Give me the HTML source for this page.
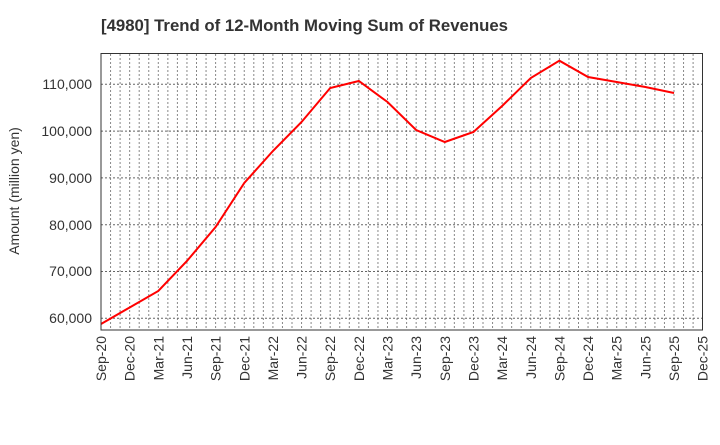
<!DOCTYPE html>
<html><head><style>
body{margin:0;background:#fff;}
svg text{font-family:"Liberation Sans",sans-serif;}
</style></head><body>
<svg width="720" height="440" xmlns="http://www.w3.org/2000/svg">
<rect width="720" height="440" fill="#fff"/>
<text x="101" y="31" font-size="16.5" font-weight="bold" fill="#333" textLength="407" lengthAdjust="spacingAndGlyphs">[4980]  Trend of 12-Month Moving Sum of Revenues</text>
<path stroke="#888" stroke-width="1" stroke-dasharray="2,2" fill="none" d="M110.55 54V330M120.1 54V330M129.65 54V330M139.2 54V330M148.75 54V330M158.3 54V330M167.85 54V330M177.4 54V330M186.95 54V330M196.5 54V330M206.05 54V330M215.6 54V330M225.15 54V330M234.7 54V330M244.25 54V330M253.8 54V330M263.35 54V330M272.9 54V330M282.45 54V330M292 54V330M301.55 54V330M311.1 54V330M320.65 54V330M330.2 54V330M339.75 54V330M349.3 54V330M358.85 54V330M368.4 54V330M377.95 54V330M387.5 54V330M397.05 54V330M406.6 54V330M416.15 54V330M425.7 54V330M435.25 54V330M444.8 54V330M454.35 54V330M463.9 54V330M473.45 54V330M483 54V330M492.55 54V330M502.1 54V330M511.65 54V330M521.2 54V330M530.75 54V330M540.3 54V330M549.85 54V330M559.4 54V330M568.95 54V330M578.5 54V330M588.05 54V330M597.6 54V330M607.15 54V330M616.7 54V330M626.25 54V330M635.8 54V330M645.35 54V330M654.9 54V330M664.45 54V330M674 54V330M683.55 54V330M693.1 54V330"/>
<g stroke="#666" stroke-width="1" stroke-dasharray="2,2">
<line x1="101" x2="702" y1="84.3" y2="84.3"/>
<line x1="101" x2="702" y1="131.1" y2="131.1"/>
<line x1="101" x2="702" y1="177.9" y2="177.9"/>
<line x1="101" x2="702" y1="224.7" y2="224.7"/>
<line x1="101" x2="702" y1="271.5" y2="271.5"/>
<line x1="101" x2="702" y1="318.3" y2="318.3"/>
</g>
<g font-size="14" fill="#333" text-anchor="end">
<text x="92" y="89">110,000</text>
<text x="92" y="136">100,000</text>
<text x="92" y="183">90,000</text>
<text x="92" y="230">80,000</text>
<text x="92" y="276">70,000</text>
<text x="92" y="323">60,000</text>
</g>
<text transform="translate(19,191) rotate(-90)" font-size="14" fill="#333" text-anchor="middle">Amount (million yen)</text>
<g font-size="14" fill="#333" text-anchor="end">
<text transform="translate(106,336) rotate(-90)">Sep-20</text>
<text transform="translate(134.65,336) rotate(-90)">Dec-20</text>
<text transform="translate(163.3,336) rotate(-90)">Mar-21</text>
<text transform="translate(191.95,336) rotate(-90)">Jun-21</text>
<text transform="translate(220.6,336) rotate(-90)">Sep-21</text>
<text transform="translate(249.25,336) rotate(-90)">Dec-21</text>
<text transform="translate(277.9,336) rotate(-90)">Mar-22</text>
<text transform="translate(306.55,336) rotate(-90)">Jun-22</text>
<text transform="translate(335.2,336) rotate(-90)">Sep-22</text>
<text transform="translate(363.85,336) rotate(-90)">Dec-22</text>
<text transform="translate(392.5,336) rotate(-90)">Mar-23</text>
<text transform="translate(421.15,336) rotate(-90)">Jun-23</text>
<text transform="translate(449.8,336) rotate(-90)">Sep-23</text>
<text transform="translate(478.45,336) rotate(-90)">Dec-23</text>
<text transform="translate(507.1,336) rotate(-90)">Mar-24</text>
<text transform="translate(535.75,336) rotate(-90)">Jun-24</text>
<text transform="translate(564.4,336) rotate(-90)">Sep-24</text>
<text transform="translate(593.05,336) rotate(-90)">Dec-24</text>
<text transform="translate(621.7,336) rotate(-90)">Mar-25</text>
<text transform="translate(650.35,336) rotate(-90)">Jun-25</text>
<text transform="translate(679,336) rotate(-90)">Sep-25</text>
<text transform="translate(707.65,336) rotate(-90)">Dec-25</text>
</g>
<polyline fill="none" stroke="#ff0000" stroke-width="2" points="101,324 129.65,307.5 158.3,291 186.95,261 215.6,227 244.25,183 272.9,151 301.55,122 330.2,88 358.85,81 387.5,102 416.15,130 444.8,142 473.45,132 502.1,106 530.75,78 559.4,60.7 588.05,77 616.7,82 645.35,87 674,93"/>
<rect x="101" y="53.5" width="601.5" height="276.5" fill="none" stroke="#333" stroke-width="1"/>
</svg>
</body></html>
